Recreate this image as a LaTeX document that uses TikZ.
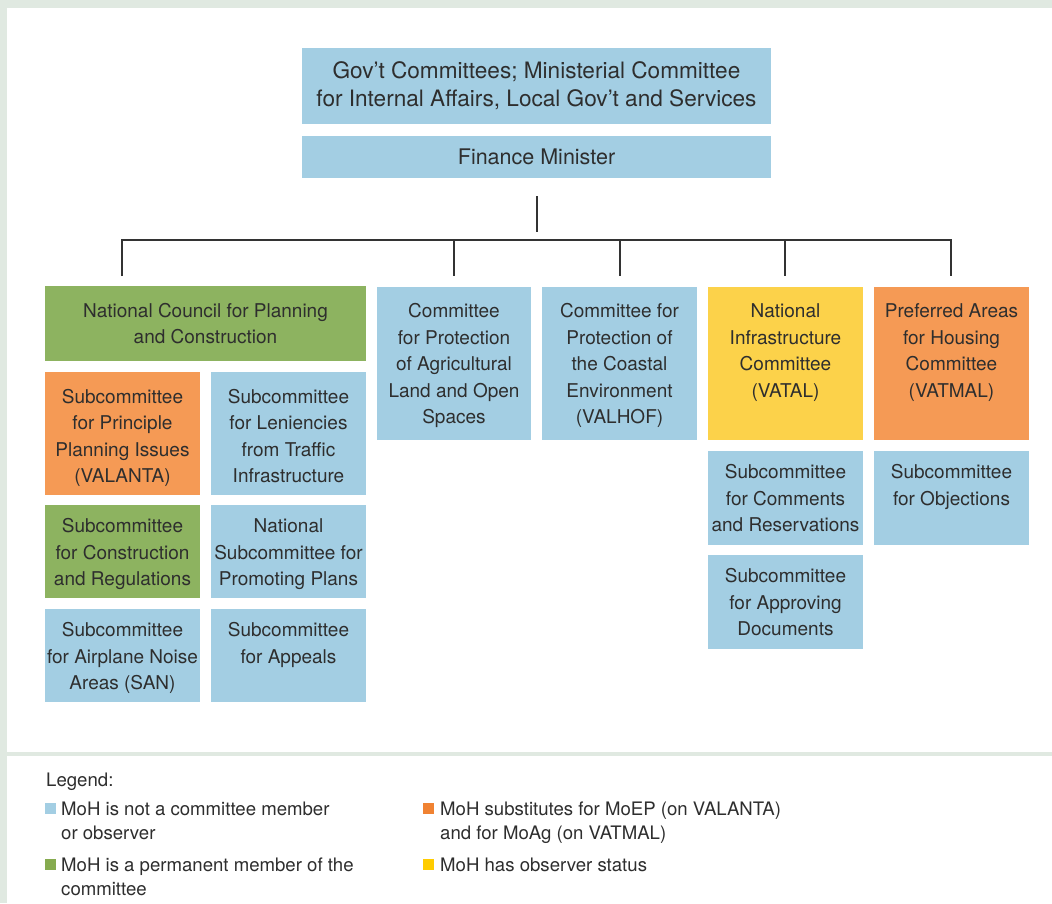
\documentclass[tikz,border=0pt]{standalone}
\usepackage{fontspec}
\setmainfont{TeX Gyre Heros}
\definecolor{frame}{HTML}{E0E9E1}
\definecolor{cblue}{HTML}{A3CEE3}
\definecolor{cgreen}{HTML}{8DB360}
\definecolor{corange}{HTML}{F59A55}
\definecolor{cyellow}{HTML}{FCD24A}
\definecolor{lgreen}{HTML}{86AB4F}
\definecolor{lorange}{HTML}{F08232}
\definecolor{lyellow}{HTML}{FFCC00}
\definecolor{txt}{HTML}{2E2E2E}
\definecolor{linec}{HTML}{333333}
\newcommand\boxfont{\fontsize{19}{26.6}\selectfont}
\newcommand\bigfont{\fontsize{22.6}{28.3}\selectfont}
\newcommand\finfont{\fontsize{21.5}{28.3}\selectfont}
\newcommand\legfont{\fontsize{18.6}{24}\selectfont}
% width, height, strut (first baseline), text
\newcommand\bxt[4]{\parbox[c][#2pt][t]{#1pt}{\centering\rule{0pt}{#3pt}#4\par}}
\newcommand\bxc[3]{\parbox[c][#2pt][c]{#1pt}{\centering #3\par}}
\begin{document}
\begin{tikzpicture}[x=1pt,y=-1pt,
  box/.style={inner sep=0pt,outer sep=0pt,anchor=north west,text=txt,font=\boxfont},
  bigbox/.style={box,font=\bigfont},
  finbox/.style={box,font=\finfont},
  conn/.style={draw=linec,line width=1.3pt},
  leg/.style={inner sep=0pt,anchor=base west,text=txt,font=\legfont},
  sq/.style={inner sep=0pt,outer sep=0pt,minimum size=11pt,anchor=north west}]
\fill[frame] (0,0) rectangle (1052,903);
\fill[white] (7,8) rectangle (1052,752);
\fill[white] (7,756) rectangle (1052,903);
\useasboundingbox (0,0) rectangle (1052,903);

% top
\node[bigbox,fill=cblue] (gov) at (302,48) {\bxc{469}{76}{Gov’t Committees; Ministerial Committee\\for Internal Affairs, Local Gov’t and Services}};
\node[finbox,fill=cblue] (fin) at (302,136) {\bxc{469}{42}{Finance Minister}};

% connectors
\coordinate (stemtop) at (537,196);
\coordinate (stembot) at (537,232);
\coordinate (barl) at (122,240);
\coordinate (barr) at (951,240);
\coordinate (d1) at (122,276);
\coordinate (d2t) at (454,240);
\coordinate (d2) at (454,276);
\coordinate (d3t) at (620,240);
\coordinate (d3) at (620,276);
\coordinate (d4t) at (785,240);
\coordinate (d4) at (785,276);
\coordinate (d5) at (951,276);
\draw[conn] (stemtop) -- (stembot);
\draw[conn] (d1) -- (barl) -- (barr) -- (d5);
\draw[conn] (d2t) -- (d2);
\draw[conn] (d3t) -- (d3);
\draw[conn] (d4t) -- (d4);

% level 2
\node[box,fill=cgreen] (ncpc) at (45,286) {\bxc{321}{75}{National Council for Planning\\and Construction}};
\node[box,fill=cblue] (agri) at (377,287) {\bxt{154}{153}{30.5}{Committee\\for Protection\\of Agricultural\\Land and Open\\Spaces}};
\node[box,fill=cblue] (coast) at (542,287) {\bxt{155}{153}{30.5}{Committee for\\Protection of\\the Coastal\\Environment\\(VALHOF)}};
\node[box,fill=cyellow] (vatal) at (708,287) {\bxt{155}{153}{30.5}{National\\Infrastructure\\Committee\\(VATAL)}};
\node[box,fill=corange] (vatmal) at (874,287) {\bxt{155}{153}{30.5}{Preferred Areas\\for Housing\\Committee\\(VATMAL)}};

% subcommittees of NCPC
\node[box,fill=corange] (valanta) at (45,372) {\bxt{155}{123}{31}{Subcommittee\\for Principle\\Planning Issues\\(VALANTA)}};
\node[box,fill=cblue] (lenien) at (211,372) {\bxt{155}{123}{31}{Subcommittee\\for Leniencies\\from Traffic\\Infrastructure}};
\node[box,fill=cgreen] (constr) at (45,505) {\bxt{155}{93}{27.5}{Subcommittee\\for Construction\\and Regulations}};
\node[box,fill=cblue] (promo) at (211,505) {\bxt{155}{93}{27.5}{National\\Subcommittee for\\Promoting Plans}};
\node[box,fill=cblue] (airplane) at (45,609) {\bxt{155}{93}{27.5}{Subcommittee\\for Airplane Noise\\Areas (SAN)}};
\node[box,fill=cblue] (appeals) at (211,609) {\bxt{155}{93}{27.5}{Subcommittee\\for Appeals}};

% subcommittees of VATAL / VATMAL
\node[box,fill=cblue] (comments) at (708,451) {\bxt{155}{94}{27.5}{Subcommittee\\for Comments\\and Reservations}};
\node[box,fill=cblue] (approving) at (708,555) {\bxt{155}{94}{27.5}{Subcommittee\\for Approving\\Documents}};
\node[box,fill=cblue] (objections) at (874,451) {\bxt{155}{94}{27.5}{Subcommittee\\for Objections}};

% legend
\node[leg] (legtitle) at (46,786) {Legend:};
\node[sq,fill=cblue] (sqblue) at (45,803) {};
\node[leg] (legblue) at (61,815) {\parbox[t]{340pt}{\raggedright MoH is not a committee member\\or observer}};
\node[sq,fill=lgreen] (sqgreen) at (45,859) {};
\node[leg] (leggreen) at (61,871) {\parbox[t]{340pt}{\raggedright MoH is a permanent member of the\\committee}};
\node[sq,fill=lorange] (sqorange) at (423,803) {};
\node[leg] (legorange) at (440,815) {\parbox[t]{380pt}{\raggedright MoH substitutes for MoEP (on VALANTA)\\and for MoAg (on VATMAL)}};
\node[sq,fill=lyellow] (sqyellow) at (423,859) {};
\node[leg] (legyellow) at (440,871) {MoH has observer status};
\end{tikzpicture}
\end{document}
